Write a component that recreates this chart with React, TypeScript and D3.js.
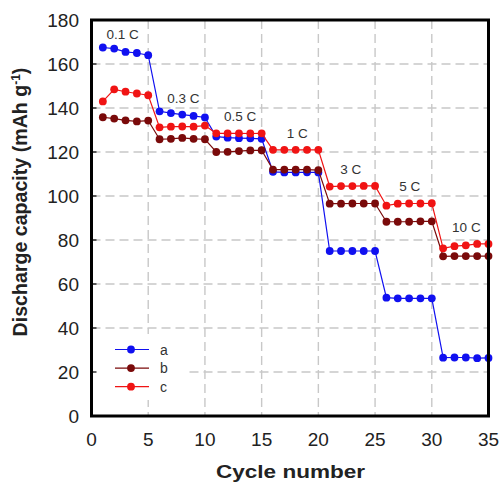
import React from "react";
import * as d3 from "d3";

const cycles = d3.range(1, 36);
const seriesA = [167.5, 167, 165.5, 165, 164, 138.5, 137.7, 137, 136.4, 135.7, 127, 126.5, 126.3, 126.2, 126, 111, 110.7, 110.7, 110.8, 110.7, 75, 75, 75, 75, 75, 53.8, 53.5, 53.5, 53.5, 53.5, 26.5, 26.6, 26.6, 26.3, 26.4];
const seriesB = [135.8, 135.2, 134.4, 133.9, 134.3, 125.8, 126, 126.4, 126, 125.8, 120, 120.1, 120.4, 120.7, 120.8, 112, 112, 112, 112, 111.8, 96.5, 96.5, 96.6, 96.6, 96.6, 88.3, 88.3, 88.3, 88.5, 88.5, 72.6, 72.7, 72.7, 72.7, 72.7];
const seriesC = [143, 148.5, 147.4, 146.6, 145.8, 131.2, 131.5, 131.6, 131.5, 132, 128.5, 128.5, 128.5, 128.4, 128.5, 121, 121, 121, 121, 121, 104.3, 104.5, 104.5, 104.6, 104.6, 95.6, 96.5, 96.6, 96.6, 96.7, 76.2, 77.2, 77.6, 78.2, 78.2];
const seriesNames = ["a", "b", "c"];
const seriesColors = ["#1010f0", "#7a0a0a", "#f01414"];
const xTicks = [0, 5, 10, 15, 20, 25, 30, 35];
const yTicks = [0, 20, 40, 60, 80, 100, 120, 140, 160, 180];
const rateLabels = ["0.1 C", "0.3 C", "0.5 C", "1 C", "3 C", "5 C", "10 C"];
const rateLabelCycle = [2.75, 8.1, 13.1, 18.15, 22.85, 28.05, 33.05];
const rateLabelValue = [173.2, 144.4, 136, 128.5, 112.1, 104.2, 85.6];

const FONT = "'Liberation Sans', Arial, Helvetica, sans-serif";

export default function App() {
  const W = 500, H = 484;
  const x = d3.scaleLinear().domain([0, 35]).range([91.5, 488.5]);
  const y = d3.scaleLinear().domain([0, 180]).range([416, 20]);
  const data = [seriesA, seriesB, seriesC];
  const line = d3.line<number>().x((_, i) => x(cycles[i])).y((v) => y(v));

  return (
    <svg width={W} height={H} style={{ position: "absolute", left: 0, top: 0, background: "#fff" }} fontFamily={FONT}>
      <rect x={0} y={0} width={W} height={H} fill="#fff" />
      {/* grid */}
      {xTicks.slice(1, -1).map((t) => (
        <line key={"gx" + t} x1={x(t)} x2={x(t)} y1={y(180)} y2={y(0)} stroke="#c8c8c8" strokeWidth={1.4} strokeDasharray="9,5" />
      ))}
      {yTicks.slice(1, -1).map((t) => (
        <line key={"gy" + t} x1={x(0)} x2={x(35)} y1={y(t)} y2={y(t)} stroke="#c8c8c8" strokeWidth={1.4} strokeDasharray="9,5" />
      ))}
      {/* legend background */}
      <rect x={x(0) + 2} y={334} width={93} height={66} fill="#fff" />
      {/* series */}
      {data.map((s, k) => (
        <g key={"s" + k}>
          <path d={line(s) || ""} fill="none" stroke={seriesColors[k]} strokeWidth={1.2} />
          {s.map((v, i) => (
            <circle key={i} cx={x(cycles[i])} cy={y(v)} r={3.9} fill={seriesColors[k]} />
          ))}
        </g>
      ))}
      {/* rate labels */}
      {rateLabels.map((t, i) => (
        <text key={t} x={x(rateLabelCycle[i])} y={y(rateLabelValue[i])} textAnchor="middle" dominantBaseline="central" fontSize={13.5} fill="#333">
          {t}
        </text>
      ))}
      {/* legend */}
      {seriesNames.map((n, k) => {
        const ly = 349.5 + k * 18.6;
        return (
          <g key={"l" + n}>
            <line x1={115} x2={149} y1={ly} y2={ly} stroke={seriesColors[k]} strokeWidth={1.2} />
            <circle cx={131} cy={ly} r={3.9} fill={seriesColors[k]} />
            <text x={160} y={ly} dominantBaseline="central" fontSize={14} fill="#333">{n}</text>
          </g>
        );
      })}
      {/* frame */}
      <rect x={x(0)} y={y(180)} width={x(35) - x(0)} height={y(0) - y(180)} fill="none" stroke="#000" strokeWidth={3} />
      {/* ticks */}
      {yTicks.slice(1, -1).map((t) => (
        <line key={"ty" + t} x1={x(0)} x2={x(0) + 5} y1={y(t)} y2={y(t)} stroke="#000" strokeWidth={1.2} />
      ))}
      {yTicks.map((t) => (
        <text key={"yl" + t} x={79} y={y(t)} textAnchor="end" dominantBaseline="central" fontSize={19} fill="#222">
          {t}
        </text>
      ))}
      {xTicks.map((t) => (
        <text key={"xl" + t} x={x(t)} y={439} textAnchor="middle" dominantBaseline="central" fontSize={19} fill="#222">
          {t}
        </text>
      ))}
      <text x={290.5} y={478} textAnchor="middle" fontSize={19} fontWeight="bold" fill="#222" textLength={149} lengthAdjust="spacingAndGlyphs">Cycle number</text>
      <text transform="translate(27,202) rotate(-90)" textAnchor="middle" fontSize={19.6} fontWeight="bold" fill="#222">
        Discharge capacity (mAh g
        <tspan dy={-7.5} fontSize={12}>-1</tspan>
        <tspan dy={7.5}>)</tspan>
      </text>
    </svg>
  );
}
